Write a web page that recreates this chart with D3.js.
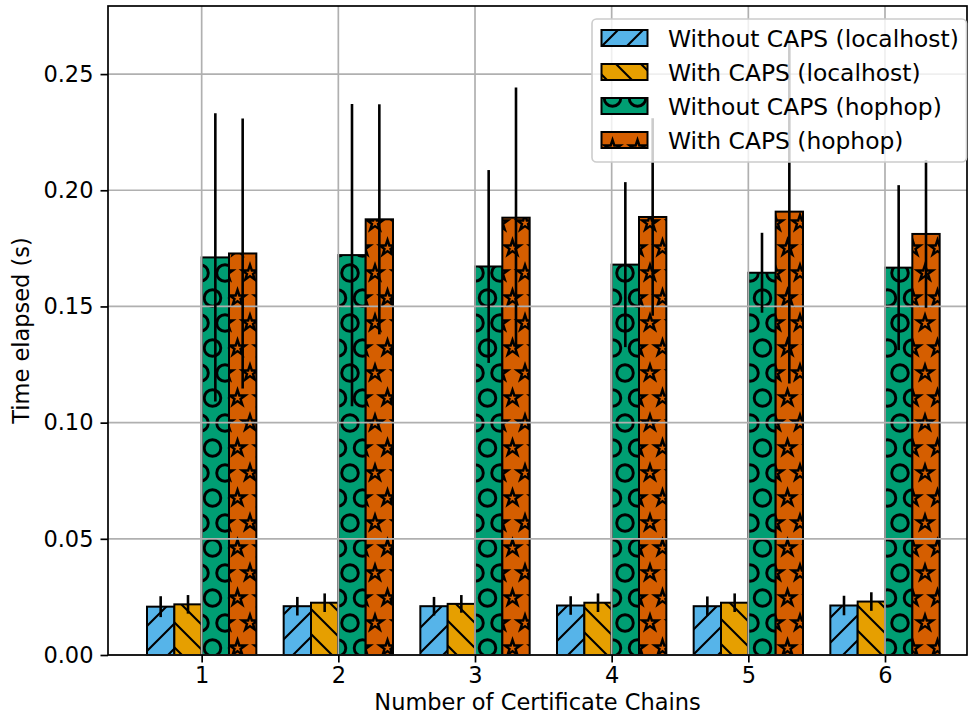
<!DOCTYPE html>
<html>
<head>
<meta charset="utf-8">
<script src="https://cdn.jsdelivr.net/npm/d3@7"></script>
<style>
  body { margin: 0; background: #fff; }
  text { font-family: "DejaVu Sans", sans-serif; fill: #000; }
</style>
</head>
<body>
<svg id="chart" width="969" height="723"></svg>
<script>
// grouped bar chart, 4 series per certificate chain count, symmetric error bars
var chains = [1, 2, 3, 4, 5, 6];
var seriesNames = ["Without CAPS (localhost)", "With CAPS (localhost)",
                   "Without CAPS (hophop)", "With CAPS (hophop)"];

var localNoCaps    = [0.0208, 0.0210, 0.0210, 0.0213, 0.0210, 0.0213];
var localNoCapsErr = [0.0045, 0.0040, 0.0040, 0.0040, 0.0042, 0.0042];
var localCaps      = [0.0218, 0.0225, 0.0220, 0.0225, 0.0225, 0.0230];
var localCapsErr   = [0.0040, 0.0040, 0.0038, 0.0040, 0.0040, 0.0040];
var hopNoCaps      = [0.1711, 0.1721, 0.1672, 0.1680, 0.1645, 0.1667];
var hopNoCapsErr   = [0.0620, 0.0650, 0.0415, 0.0355, 0.0172, 0.0355];
var hopCaps        = [0.1728, 0.1875, 0.1882, 0.1885, 0.1908, 0.1812];
var hopCapsErr     = [0.0581, 0.0495, 0.0560, 0.0425, 0.0740, 0.0318];

var yTicks = [0, 0.05, 0.10, 0.15, 0.20, 0.25];

var colors = ["#56B4E9", "#E69F00", "#009E73", "#D55E00"];
var hatches = ["fwd", "back", "circle", "star"];

var series = [
  {name: seriesNames[0], values: localNoCaps, errs: localNoCapsErr},
  {name: seriesNames[1], values: localCaps, errs: localCapsErr},
  {name: seriesNames[2], values: hopNoCaps, errs: hopNoCapsErr},
  {name: seriesNames[3], values: hopCaps, errs: hopCapsErr}
];

var W = 969, H = 723;
var plotL = 108, plotR = 967, plotT = 6, plotB = 655;
var barW = 0.2;
var fs = 22.5, legendFs = 23.4;
var tile = 25;   // hatch spacing

var svg = d3.select("#chart");

var x = d3.scaleLinear().domain([0.3146, 6.6]).range([plotL, plotR]);
var y = d3.scaleLinear().domain([0, 0.2793]).range([plotB, plotT]);

// hatch patterns
var defs = svg.append("defs");

function starPath(cx, cy, r) {
  var pts = [];
  for (var k = 0; k < 10; k++) {
    var a = Math.PI / 2 + k * Math.PI / 5;
    var rr = (k % 2 == 0) ? r : r * 0.381966;
    pts.push([cx + rr * Math.cos(a), cy - rr * Math.sin(a)]);
  }
  return "M" + pts.map(function(p){ return p[0].toFixed(2) + "," + p[1].toFixed(2); }).join("L") + "Z";
}

hatches.forEach(function(h, i) {
  // shapes repeat every tile across and every 2 tiles down, odd rows shifted by half
  var ph = (h == "circle" || h == "star") ? tile * 2 : tile;
  var p = defs.append("pattern")
    .attr("id", "hatch" + i)
    .attr("patternUnits", "userSpaceOnUse")
    .attr("x", 0)
    .attr("y", H % ph)
    .attr("width", tile)
    .attr("height", ph);
  p.append("rect").attr("width", tile).attr("height", ph).attr("fill", colors[i]);
  var g = p.append("g").attr("fill", "none").attr("stroke", "#000");
  var pts = [[0, 0], [tile, 0], [0, ph], [tile, ph], [tile / 2, ph / 2]];
  if (h == "fwd") {
    g.append("path").attr("stroke-width", 2.1)
      .attr("d", "M-5,5L5,-5M-5," + (tile + 5) + "L" + (tile + 5) + ",-5M" + (tile - 5) + "," + (tile + 5) + "L" + (tile + 5) + "," + (tile - 5));
  } else if (h == "back") {
    g.append("path").attr("stroke-width", 2.1)
      .attr("d", "M-5," + (tile - 5) + "L5," + (tile + 5) + "M-5,-5L" + (tile + 5) + "," + (tile + 5) + "M" + (tile - 5) + ",-5L" + (tile + 5) + ",5");
  } else if (h == "circle") {
    pts.forEach(function(c) {
      g.append("circle").attr("cx", c[0]).attr("cy", c[1]).attr("r", 8.3).attr("stroke-width", 2.9);
    });
  } else {
    pts.forEach(function(c) {
      g.append("path").attr("d", starPath(c[0], c[1], 8.2))
        .attr("stroke-width", 2.4).attr("stroke-linejoin", "miter");
    });
  }
});

// bars
series.forEach(function(s, i) {
  svg.append("g").selectAll("rect")
    .data(chains)
    .enter().append("rect")
      .attr("x", function(c){ return x(c + (i - 2) * barW); })
      .attr("width", function(c){ return x(c + (i - 1) * barW) - x(c + (i - 2) * barW); })
      .attr("y", function(c, j){ return y(s.values[j]); })
      .attr("height", function(c, j){ return y(0) - y(s.values[j]); })
      .attr("fill", "url(#hatch" + i + ")")
      .attr("stroke", "#000")
      .attr("stroke-width", 2);
});

// grid drawn over the bars
var grid = svg.append("g").attr("stroke", "#b0b0b0").attr("stroke-width", 1.7);
grid.selectAll("line.h").data(yTicks).enter().append("line").attr("class", "h")
  .attr("x1", plotL).attr("x2", plotR)
  .attr("y1", function(d){ return y(d); }).attr("y2", function(d){ return y(d); });
grid.selectAll("line.v").data(chains).enter().append("line").attr("class", "v")
  .attr("y1", plotT).attr("y2", plotB)
  .attr("x1", function(d){ return x(d); }).attr("x2", function(d){ return x(d); });

// error bars
series.forEach(function(s, i) {
  svg.append("g").selectAll("line")
    .data(chains)
    .enter().append("line")
      .attr("x1", function(c){ return x(c + (i - 1.5) * barW); })
      .attr("x2", function(c){ return x(c + (i - 1.5) * barW); })
      .attr("y1", function(c, j){ return y(s.values[j] - s.errs[j]); })
      .attr("y2", function(c, j){ return y(s.values[j] + s.errs[j]); })
      .attr("stroke", "#000")
      .attr("stroke-width", 2.6);
});

// axes
var xAxis = d3.axisBottom(x).tickValues(chains).tickFormat(d3.format("d")).tickSize(7.5).tickPadding(5);
var yAxis = d3.axisLeft(y).tickValues(yTicks).tickFormat(d3.format(".2f")).tickSize(7.5).tickPadding(7);

var gx = svg.append("g").attr("transform", "translate(0," + plotB + ")").call(xAxis);
var gy = svg.append("g").attr("transform", "translate(" + plotL + ",0)").call(yAxis);
[gx, gy].forEach(function(g) {
  g.select(".domain").remove();
  g.selectAll(".tick line").attr("stroke", "#000").attr("stroke-width", 1.7);
  g.selectAll(".tick text").attr("font-size", fs).attr("font-family", "DejaVu Sans").attr("fill", "#000");
});

// spines
svg.append("rect")
  .attr("x", plotL).attr("y", plotT)
  .attr("width", plotR - plotL).attr("height", plotB - plotT)
  .attr("fill", "none").attr("stroke", "#000").attr("stroke-width", 1.7);

svg.append("text")
  .attr("x", (plotL + plotR) / 2).attr("y", 710)
  .attr("text-anchor", "middle").attr("font-size", fs)
  .text("Number of Certificate Chains");

svg.append("text")
  .attr("transform", "translate(29," + ((plotT + plotB) / 2) + ") rotate(-90)")
  .attr("text-anchor", "middle").attr("font-size", fs)
  .text("Time elapsed (s)");

// legend, upper right
var legend = svg.append("g");
legend.append("rect")
  .attr("x", 592).attr("y", 19).attr("width", 374.5).attr("height", 143)
  .attr("rx", 4.5).attr("ry", 4.5)
  .attr("fill", "#fff").attr("fill-opacity", 0.8)
  .attr("stroke", "#cccccc").attr("stroke-width", 1.6);

var rowY = d3.scaleLinear().domain([0, 3]).range([38, 140]);
var items = legend.selectAll("g.item").data(series).enter().append("g");
items.append("rect")
  .attr("x", 601.5).attr("width", 46)
  .attr("y", function(d, i){ return rowY(i) - 8; }).attr("height", 16)
  .attr("fill", function(d, i){ return "url(#hatch" + i + ")"; })
  .attr("stroke", "#000").attr("stroke-width", 2);
items.append("text")
  .attr("x", 668)
  .attr("y", function(d, i){ return rowY(i) + 8.5; })
  .attr("font-size", legendFs)
  .text(function(d){ return d.name; });
</script>
</body>
</html>
